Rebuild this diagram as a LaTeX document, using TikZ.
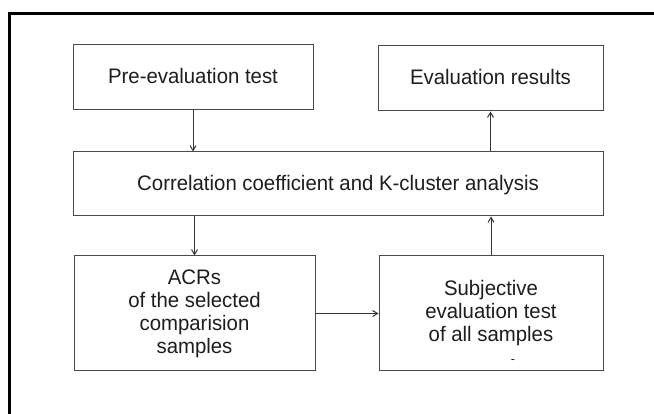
\documentclass[tikz,border=0pt]{standalone}
\usepackage{fontspec}
\setmainfont{Liberation Sans}[FakeStretch=0.97]
\usetikzlibrary{arrows.meta}
\definecolor{boxline}{HTML}{4A4A4A}
\definecolor{ink}{HTML}{1E1E1E}
\tikzset{
  stepbox/.style={draw=boxline, line width=1pt, rectangle, inner sep=0pt,
    align=center, text=ink, font=\fontsize{21}{23}\selectfont},
  oneline/.style={text depth=0.25em},
  flow/.style={draw=ink!90, line width=1pt,
    -{Straight Barb[length=5pt,width=6pt]}},
}
\begin{document}
\begin{tikzpicture}[x=1pt,y=-1pt]
\useasboundingbox (0,0) rectangle (654,414);
\fill[white] (0,0) rectangle (654,414);
% outer frame (only its top and left edges fall inside the page)
\draw[line width=2.6pt, black] (9.3,420) -- (9.3,13.8) -- (660,13.8);

\node[stepbox, oneline, minimum width=240pt, minimum height=65pt] (pre) at (193,77.5) {Pre-evaluation test};
\node[stepbox, oneline, minimum width=225pt, minimum height=65pt] (res) at (490.5,78.5) {Evaluation results};
\node[stepbox, oneline, minimum width=530pt, minimum height=64pt] (cor) at (338,184) {Correlation coefficient and K-cluster analysis};
\node[stepbox, minimum width=241pt, minimum height=115pt] (acr) at (194.5,313.5) {ACRs\\of the selected\\comparision\\samples};
\node[stepbox, minimum width=224pt, minimum height=115pt] (sub) at (491,313.5) {Subjective\\evaluation test\\of all samples};
\node[text=ink, inner sep=0pt, font=\fontsize{13}{13}\selectfont] (dash) at (513,362) {-};

\draw[flow] (pre.south) -- (pre.south |- cor.north);
\draw[flow] (res.south |- cor.north) -- (res.south);
\draw[flow] (acr.north |- cor.south) -- (acr.north);
\draw[flow] (sub.north) -- (sub.north |- cor.south);
\draw[flow] (acr.east) -- (sub.west |- acr.east);
\end{tikzpicture}
\end{document}
